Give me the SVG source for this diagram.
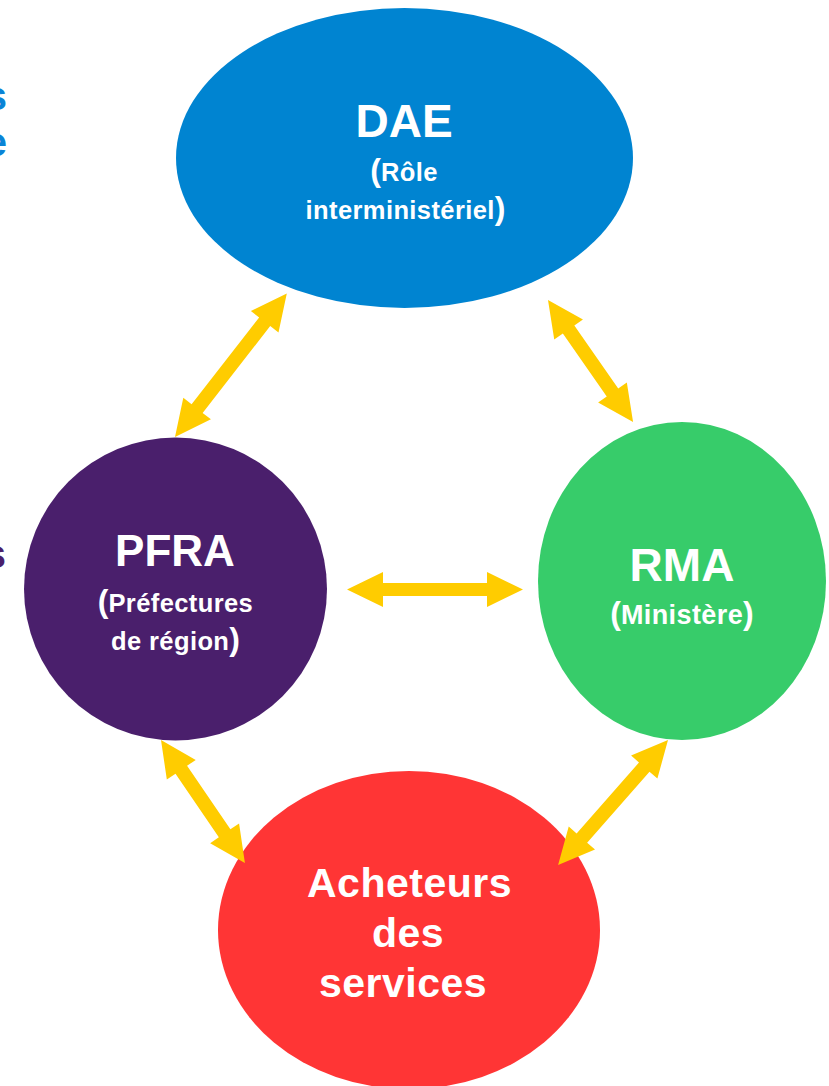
<svg xmlns="http://www.w3.org/2000/svg" width="829" height="1086" viewBox="0 0 829 1086">
<style>
.t{font-family:"Liberation Sans",Arial,sans-serif;font-weight:bold;fill:#fff;text-anchor:middle}
.big{font-size:46px}
.sub{font-size:25.5px;letter-spacing:0.4px}
.par{font-size:32px;letter-spacing:0}
.ach{font-size:41px;letter-spacing:0.5px}
.arr{fill:#FFCC00}
.frag{font-family:"Liberation Sans",Arial,sans-serif;font-weight:bold;font-size:40px;text-anchor:end}
</style>
<rect width="829" height="1086" fill="#fff"/>
<text class="frag" x="7" y="110" fill="#0A84D6">s</text>
<text class="frag" x="7" y="156" fill="#0A84D6">e</text>
<text class="frag" x="6" y="568" fill="#4A1F6C">s</text>
<g id="dae">
<ellipse cx="404.5" cy="158" rx="228.5" ry="150" fill="#0084D1"/>
<text class="t big" x="404" y="137">DAE</text>
<text class="t sub" x="404" y="181"><tspan class="par">(</tspan>Rôle</text>
<text class="t sub" x="405.5" y="219">interministériel<tspan class="par">)</tspan></text>
</g>
<g id="pfra">
<circle cx="175.5" cy="589" r="151.5" fill="#4A1F6C"/>
<text class="t big" x="175" y="566" style="font-size:44px">PFRA</text>
<text class="t sub" x="175.5" y="612"><tspan class="par">(</tspan>Préfectures</text>
<text class="t sub" x="175.5" y="650">de région<tspan class="par">)</tspan></text>
</g>
<g id="rma">
<ellipse cx="682" cy="581" rx="144" ry="159" fill="#37CC6A"/>
<text class="t big" x="682" y="581">RMA</text>
<text class="t sub" x="682" y="624" style="font-size:27px"><tspan class="par">(</tspan>Ministère<tspan class="par">)</tspan></text>
</g>
<g id="acheteurs">
<ellipse cx="409" cy="930" rx="191" ry="159" fill="#FF3535"/>
<text class="t ach" x="409.5" y="897">Acheteurs</text>
<text class="t ach" x="408" y="947">des</text>
<text class="t ach" x="403" y="997">services</text>
</g>
<g id="connectors">
<polygon class="arr" transform="translate(175,437) rotate(-52.1)" points="0,0 36,-17.5 36,-7 146,-7 146,-17.5 182,0 146,17.5 146,7 36,7 36,17.5"/>
<polygon class="arr" transform="translate(548,300) rotate(55.1)" points="0,0 36,-17.5 36,-7 112.7,-7 112.7,-17.5 148.7,0 112.7,17.5 112.7,7 36,7 36,17.5"/>
<polygon class="arr" transform="translate(347,589.5)" points="0,0 36,-17.5 36,-6.5 140,-6.5 140,-17.5 176,0 140,17.5 140,6.5 36,6.5 36,17.5"/>
<polygon class="arr" transform="translate(161,740) rotate(55.7)" points="0,0 36,-17.5 36,-7 112.9,-7 112.9,-17.5 148.9,0 112.9,17.5 112.9,7 36,7 36,17.5"/>
<polygon class="arr" transform="translate(668,740) rotate(131.3)" points="0,0 36,-17.5 36,-7 130.5,-7 130.5,-17.5 166.5,0 130.5,17.5 130.5,7 36,7 36,17.5"/>
</g>
</svg>
